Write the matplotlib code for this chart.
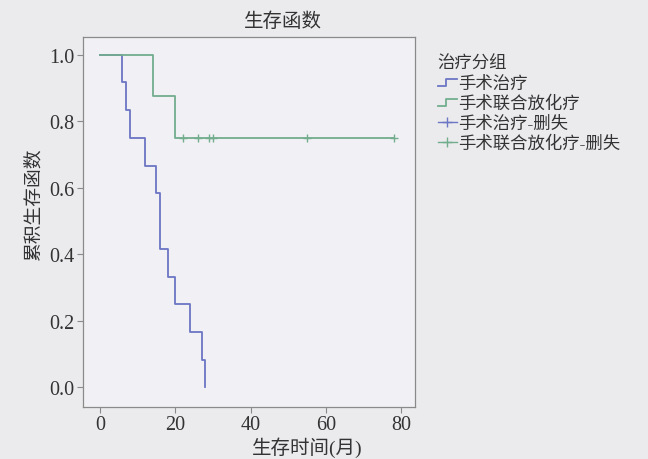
import matplotlib as mpl
mpl.use('Agg')
import matplotlib.pyplot as plt
from matplotlib.lines import Line2D
from matplotlib.legend_handler import HandlerBase

# survival steps
blue_t = [0, 6, 7, 8, 12, 15, 16, 18, 20, 24, 27, 28]
blue_s = [1.0, 0.917, 0.833, 0.75, 0.667, 0.583, 0.417, 0.333, 0.25, 0.167, 0.083, 0.0]
green_t = [0, 14, 20, 78]
green_s = [1.0, 0.875, 0.75, 0.75]
green_cens_t = [22, 26, 29, 30, 55, 78]
green_cens_s = [0.75, 0.75, 0.75, 0.75, 0.75, 0.75]

labels = ['手术治疗', '手术联合放化疗', '手术治疗-删失', '手术联合放化疗-删失']
xticks = [0, 20, 40, 60, 80]
yticks = [0.0, 0.2, 0.4, 0.6, 0.8, 1.0]

blue = '#6c76c4'
green = '#72ad8e'
fams = ['Liberation Serif', 'Noto Sans CJK SC']
plt.rcParams['font.family'] = fams
plt.rcParams['font.size'] = 11


class StepHandler(HandlerBase):
    def create_artists(self, legend, orig, xd, yd, w, h, fontsize, trans):
        xs = [xd, xd + w * 0.45, xd + w * 0.45, xd + w]
        ys = [yd + h * 0.15, yd + h * 0.15, yd + h * 0.75, yd + h * 0.75]
        ln = Line2D(xs, ys, color=orig.get_color(), lw=1.3, transform=trans)
        return [ln]


fig = plt.figure(figsize=(6.48, 4.60), dpi=100, facecolor='#ebebee')
ax = fig.add_axes([0.128, 0.113, 0.512, 0.804])
ax.set_facecolor('#f1f1f5')

l1, = ax.step(blue_t, blue_s, where='post', color=blue, lw=1.3)
l2, = ax.step(green_t, green_s, where='post', color=green, lw=1.3)
c2, = ax.plot(green_cens_t, green_cens_s, '+', color=green, ms=6, mew=1.0)

ax.set_xlim(-4.5, 83.6)
ax.set_ylim(-0.059, 1.053)
ax.set_xticks(xticks)
ax.set_yticks(yticks)
ax.set_yticklabels(['%.1f' % v for v in yticks])
for s in ax.spines.values():
    s.set_color('#8a8a8a')
    s.set_linewidth(0.9)
ax.tick_params(colors='#8a8a8a', labelcolor='#333333', length=4, pad=2, labelsize=14.5)

fig.text(283 / 648, 1 - 22 / 460, '生存函数', ha='center', va='center', fontsize=14, color='#333333')
fig.text(307 / 648, 1 - 448 / 460, '生存时间(月)', ha='center', va='center', fontsize=14, color='#333333')
fig.text(34 / 648, 1 - 205 / 460, '累积生存函数', ha='center', va='center', rotation=90, fontsize=13.5, color='#333333')

h_blue = Line2D([], [], color=blue)
h_green = Line2D([], [], color=green)
h_c1 = Line2D([], [], color=blue, marker='+', ls='-', lw=1.0, ms=7)
h_c2 = Line2D([], [], color=green, marker='+', ls='-', lw=1.0, ms=7)
leg = fig.legend([h_blue, h_green, h_c1, h_c2], labels, title='治疗分组',
                 loc='upper left', bbox_to_anchor=(422 / 648, 1 - 41 / 460),
                 frameon=False, handlelength=1.1, handletextpad=0.1,
                 labelspacing=0.22, fontsize=12.5, title_fontsize=12.5,
                 handler_map={h_blue: StepHandler(), h_green: StepHandler()})
leg._legend_box.align = 'left'
for t in leg.get_texts():
    t.set_color('#333333')
leg.get_title().set_color('#333333')

fig.savefig('out.png', dpi=100, facecolor=fig.get_facecolor())
